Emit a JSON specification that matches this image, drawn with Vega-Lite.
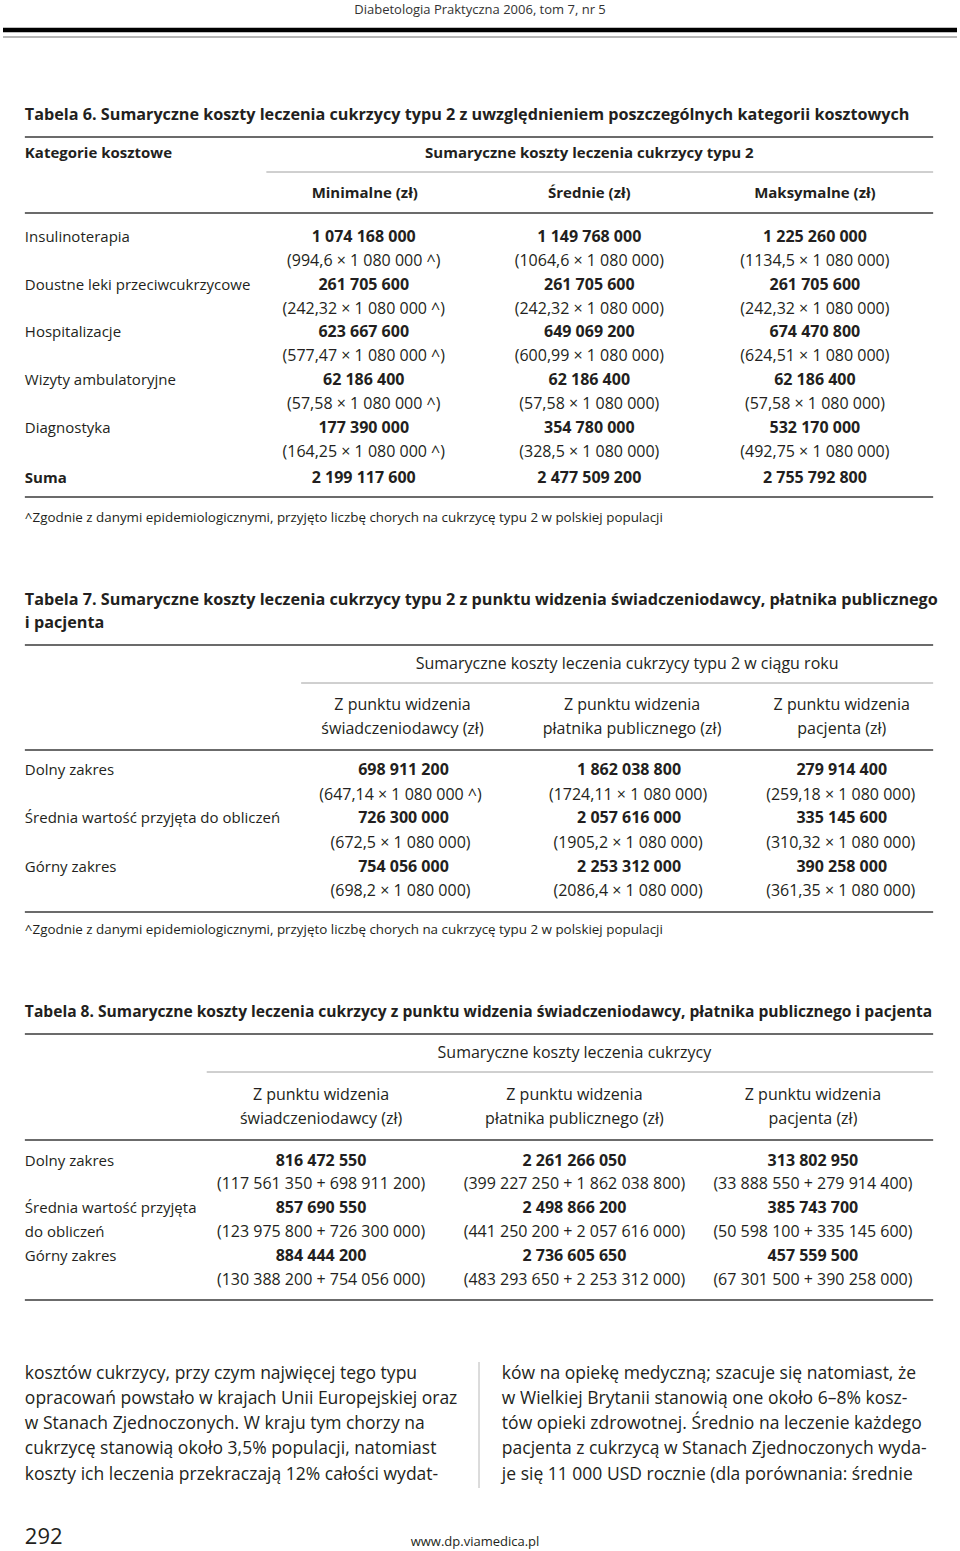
{
  "$schema": "https://vega.github.io/schema/vega-lite/v6.json",
  "width": 960,
  "height": 1551,
  "autosize": {"type": "fit", "contains": "padding"},
  "padding": 0,
  "background": "white",
  "config": {"view": {"stroke": null}, "text": {"font": "Open Sans", "color": "#231f20"}},
  "datasets": {
    "rules": [
      {"kind": "bar", "x": 0, "x2": 960, "y": 30, "y2": 30},
      {"kind": "page", "x": 0, "x2": 960, "y": 37, "y2": 37},
      {"kind": "main", "x": 22, "x2": 936, "y": 137, "y2": 137},
      {"kind": "sub", "x": 265, "x2": 936, "y": 172, "y2": 172},
      {"kind": "main", "x": 22, "x2": 936, "y": 213, "y2": 213},
      {"kind": "main", "x": 22, "x2": 936, "y": 497, "y2": 497},
      {"kind": "main", "x": 22, "x2": 936, "y": 645, "y2": 645},
      {"kind": "sub", "x": 300, "x2": 936, "y": 683, "y2": 683},
      {"kind": "main", "x": 22, "x2": 936, "y": 750, "y2": 750},
      {"kind": "main", "x": 22, "x2": 936, "y": 912, "y2": 912},
      {"kind": "main", "x": 22, "x2": 936, "y": 1034, "y2": 1034},
      {"kind": "sub", "x": 205, "x2": 936, "y": 1072, "y2": 1072},
      {"kind": "main", "x": 22, "x2": 936, "y": 1140, "y2": 1140},
      {"kind": "main", "x": 22, "x2": 936, "y": 1300, "y2": 1300},
      {"kind": "divider", "x": 479, "x2": 479, "y": 1362, "y2": 1488}
    ],
    "texts": [
      {"role": "running", "x": 480, "y": 10, "text": "Diabetologia Praktyczna 2006, tom 7, nr 5"},

      {"role": "title", "x": 22, "y": 115, "text": "Tabela 6. Sumaryczne koszty leczenia cukrzycy typu 2 z uwzględnieniem poszczególnych kategorii kosztowych"},
      {"role": "headL", "x": 22, "y": 153, "text": "Kategorie kosztowe"},
      {"role": "head", "x": 590, "y": 153, "text": "Sumaryczne koszty leczenia cukrzycy typu 2"},
      {"role": "head", "x": 364, "y": 193, "text": "Minimalne (zł)"},
      {"role": "head", "x": 590, "y": 193, "text": "Średnie (zł)"},
      {"role": "head", "x": 817, "y": 193, "text": "Maksymalne (zł)"},

      {"role": "label", "x": 22, "y": 237, "text": "Insulinoterapia"},
      {"role": "value", "x": 363, "y": 237, "text": "1 074 168 000"},
      {"role": "value", "x": 590, "y": 237, "text": "1 149 768 000"},
      {"role": "value", "x": 817, "y": 237, "text": "1 225 260 000"},
      {"role": "detail", "x": 363, "y": 261, "text": "(994,6 × 1 080 000 ^)"},
      {"role": "detail", "x": 590, "y": 261, "text": "(1064,6 × 1 080 000)"},
      {"role": "detail", "x": 817, "y": 261, "text": "(1134,5 × 1 080 000)"},

      {"role": "label", "x": 22, "y": 285, "text": "Doustne leki przeciwcukrzycowe"},
      {"role": "value", "x": 363, "y": 285, "text": "261 705 600"},
      {"role": "value", "x": 590, "y": 285, "text": "261 705 600"},
      {"role": "value", "x": 817, "y": 285, "text": "261 705 600"},
      {"role": "detail", "x": 363, "y": 309, "text": "(242,32 × 1 080 000 ^)"},
      {"role": "detail", "x": 590, "y": 309, "text": "(242,32 × 1 080 000)"},
      {"role": "detail", "x": 817, "y": 309, "text": "(242,32 × 1 080 000)"},

      {"role": "label", "x": 22, "y": 332, "text": "Hospitalizacje"},
      {"role": "value", "x": 363, "y": 332, "text": "623 667 600"},
      {"role": "value", "x": 590, "y": 332, "text": "649 069 200"},
      {"role": "value", "x": 817, "y": 332, "text": "674 470 800"},
      {"role": "detail", "x": 363, "y": 356, "text": "(577,47 × 1 080 000 ^)"},
      {"role": "detail", "x": 590, "y": 356, "text": "(600,99 × 1 080 000)"},
      {"role": "detail", "x": 817, "y": 356, "text": "(624,51 × 1 080 000)"},

      {"role": "label", "x": 22, "y": 380, "text": "Wizyty ambulatoryjne"},
      {"role": "value", "x": 363, "y": 380, "text": "62 186 400"},
      {"role": "value", "x": 590, "y": 380, "text": "62 186 400"},
      {"role": "value", "x": 817, "y": 380, "text": "62 186 400"},
      {"role": "detail", "x": 363, "y": 404, "text": "(57,58 × 1 080 000 ^)"},
      {"role": "detail", "x": 590, "y": 404, "text": "(57,58 × 1 080 000)"},
      {"role": "detail", "x": 817, "y": 404, "text": "(57,58 × 1 080 000)"},

      {"role": "label", "x": 22, "y": 428, "text": "Diagnostyka"},
      {"role": "value", "x": 363, "y": 428, "text": "177 390 000"},
      {"role": "value", "x": 590, "y": 428, "text": "354 780 000"},
      {"role": "value", "x": 817, "y": 428, "text": "532 170 000"},
      {"role": "detail", "x": 363, "y": 452, "text": "(164,25 × 1 080 000 ^)"},
      {"role": "detail", "x": 590, "y": 452, "text": "(328,5 × 1 080 000)"},
      {"role": "detail", "x": 817, "y": 452, "text": "(492,75 × 1 080 000)"},

      {"role": "headL", "x": 22, "y": 478, "text": "Suma"},
      {"role": "value", "x": 363, "y": 478, "text": "2 199 117 600"},
      {"role": "value", "x": 590, "y": 478, "text": "2 477 509 200"},
      {"role": "value", "x": 817, "y": 478, "text": "2 755 792 800"},
      {"role": "note", "x": 22, "y": 518, "text": "^Zgodnie z danymi epidemiologicznymi, przyjęto liczbę chorych na cukrzycę typu 2 w polskiej populacji"},

      {"role": "title", "x": 22, "y": 600, "text": "Tabela 7. Sumaryczne koszty leczenia cukrzycy typu 2 z punktu widzenia świadczeniodawcy, płatnika publicznego"},
      {"role": "title", "x": 22, "y": 623, "text": "i pacjenta"},
      {"role": "headN", "x": 628, "y": 664, "text": "Sumaryczne koszty leczenia cukrzycy typu 2 w ciągu roku"},
      {"role": "headN", "x": 402, "y": 705, "text": "Z punktu widzenia"},
      {"role": "headN", "x": 402, "y": 729, "text": "świadczeniodawcy (zł)"},
      {"role": "headN", "x": 633, "y": 705, "text": "Z punktu widzenia"},
      {"role": "headN", "x": 633, "y": 729, "text": "płatnika publicznego (zł)"},
      {"role": "headN", "x": 844, "y": 705, "text": "Z punktu widzenia"},
      {"role": "headN", "x": 844, "y": 729, "text": "pacjenta (zł)"},

      {"role": "label", "x": 22, "y": 770, "text": "Dolny zakres"},
      {"role": "value", "x": 403, "y": 770, "text": "698 911 200"},
      {"role": "value", "x": 630, "y": 770, "text": "1 862 038 800"},
      {"role": "value", "x": 844, "y": 770, "text": "279 914 400"},
      {"role": "detail", "x": 400, "y": 795, "text": "(647,14 × 1 080 000 ^)"},
      {"role": "detail", "x": 629, "y": 795, "text": "(1724,11 × 1 080 000)"},
      {"role": "detail", "x": 843, "y": 795, "text": "(259,18 × 1 080 000)"},
      {"role": "label", "x": 22, "y": 818, "text": "Średnia wartość przyjęta do obliczeń"},
      {"role": "value", "x": 403, "y": 818, "text": "726 300 000"},
      {"role": "value", "x": 630, "y": 818, "text": "2 057 616 000"},
      {"role": "value", "x": 844, "y": 818, "text": "335 145 600"},
      {"role": "detail", "x": 400, "y": 843, "text": "(672,5 × 1 080 000)"},
      {"role": "detail", "x": 629, "y": 843, "text": "(1905,2 × 1 080 000)"},
      {"role": "detail", "x": 843, "y": 843, "text": "(310,32 × 1 080 000)"},
      {"role": "label", "x": 22, "y": 867, "text": "Górny zakres"},
      {"role": "value", "x": 403, "y": 867, "text": "754 056 000"},
      {"role": "value", "x": 630, "y": 867, "text": "2 253 312 000"},
      {"role": "value", "x": 844, "y": 867, "text": "390 258 000"},
      {"role": "detail", "x": 400, "y": 891, "text": "(698,2 × 1 080 000)"},
      {"role": "detail", "x": 629, "y": 891, "text": "(2086,4 × 1 080 000)"},
      {"role": "detail", "x": 843, "y": 891, "text": "(361,35 × 1 080 000)"},
      {"role": "note", "x": 22, "y": 930, "text": "^Zgodnie z danymi epidemiologicznymi, przyjęto liczbę chorych na cukrzycę typu 2 w polskiej populacji"},

      {"role": "titleS", "x": 22, "y": 1012, "text": "Tabela 8. Sumaryczne koszty leczenia cukrzycy z punktu widzenia świadczeniodawcy, płatnika publicznego i pacjenta"},
      {"role": "headN", "x": 575, "y": 1053, "text": "Sumaryczne koszty leczenia cukrzycy"},
      {"role": "headN", "x": 320, "y": 1095, "text": "Z punktu widzenia"},
      {"role": "headN", "x": 320, "y": 1119, "text": "świadczeniodawcy (zł)"},
      {"role": "headN", "x": 575, "y": 1095, "text": "Z punktu widzenia"},
      {"role": "headN", "x": 575, "y": 1119, "text": "płatnika publicznego (zł)"},
      {"role": "headN", "x": 815, "y": 1095, "text": "Z punktu widzenia"},
      {"role": "headN", "x": 815, "y": 1119, "text": "pacjenta (zł)"},

      {"role": "label", "x": 22, "y": 1161, "text": "Dolny zakres"},
      {"role": "value", "x": 320, "y": 1161, "text": "816 472 550"},
      {"role": "value", "x": 575, "y": 1161, "text": "2 261 266 050"},
      {"role": "value", "x": 815, "y": 1161, "text": "313 802 950"},
      {"role": "detail", "x": 320, "y": 1184, "text": "(117 561 350 + 698 911 200)"},
      {"role": "detail", "x": 575, "y": 1184, "text": "(399 227 250 + 1 862 038 800)"},
      {"role": "detail", "x": 815, "y": 1184, "text": "(33 888 550 + 279 914 400)"},
      {"role": "label", "x": 22, "y": 1208, "text": "Średnia wartość przyjęta"},
      {"role": "label", "x": 22, "y": 1232, "text": "do obliczeń"},
      {"role": "value", "x": 320, "y": 1208, "text": "857 690 550"},
      {"role": "value", "x": 575, "y": 1208, "text": "2 498 866 200"},
      {"role": "value", "x": 815, "y": 1208, "text": "385 743 700"},
      {"role": "detail", "x": 320, "y": 1232, "text": "(123 975 800 + 726 300 000)"},
      {"role": "detail", "x": 575, "y": 1232, "text": "(441 250 200 + 2 057 616 000)"},
      {"role": "detail", "x": 815, "y": 1232, "text": "(50 598 100 + 335 145 600)"},
      {"role": "label", "x": 22, "y": 1256, "text": "Górny zakres"},
      {"role": "value", "x": 320, "y": 1256, "text": "884 444 200"},
      {"role": "value", "x": 575, "y": 1256, "text": "2 736 605 650"},
      {"role": "value", "x": 815, "y": 1256, "text": "457 559 500"},
      {"role": "detail", "x": 320, "y": 1280, "text": "(130 388 200 + 754 056 000)"},
      {"role": "detail", "x": 575, "y": 1280, "text": "(483 293 650 + 2 253 312 000)"},
      {"role": "detail", "x": 815, "y": 1280, "text": "(67 301 500 + 390 258 000)"},

      {"role": "body", "x": 22, "y": 1374, "text": "kosztów cukrzycy, przy czym najwięcej tego typu"},
      {"role": "body", "x": 22, "y": 1399, "text": "opracowań powstało w krajach Unii Europejskiej oraz"},
      {"role": "body", "x": 22, "y": 1424, "text": "w Stanach Zjednoczonych. W kraju tym chorzy na"},
      {"role": "body", "x": 22, "y": 1449, "text": "cukrzycę stanowią około 3,5% populacji, natomiast"},
      {"role": "body", "x": 22, "y": 1475, "text": "koszty ich leczenia przekraczają 12% całości wydat-"},
      {"role": "body", "x": 502, "y": 1374, "text": "ków na opiekę medyczną; szacuje się natomiast, że"},
      {"role": "body", "x": 502, "y": 1399, "text": "w Wielkiej Brytanii stanowią one około 6–8% kosz-"},
      {"role": "body", "x": 502, "y": 1424, "text": "tów opieki zdrowotnej. Średnio na leczenie każdego"},
      {"role": "body", "x": 502, "y": 1449, "text": "pacjenta z cukrzycą w Stanach Zjednoczonych wyda-"},
      {"role": "body", "x": 502, "y": 1475, "text": "je się 11 000 USD rocznie (dla porównania: średnie"},

      {"role": "pagenum", "x": 22, "y": 1537, "text": "292"},
      {"role": "url", "x": 475, "y": 1542, "text": "www.dp.viamedica.pl"}
    ]
  },
  "encoding": {
    "x": {"field": "x", "type": "quantitative", "scale": {"domain": [0, 960], "nice": false, "zero": false}, "axis": null},
    "y": {"field": "y", "type": "quantitative", "scale": {"domain": [0, 1551], "nice": false, "zero": false, "reverse": true}, "axis": null}
  },
  "layer": [
    {"data": {"name": "rules"}, "transform": [{"filter": "datum.kind === 'bar'"}], "mark": {"type": "rule", "strokeWidth": 4.5, "color": "#000000"}, "encoding": {"x2": {"field": "x2"}, "y2": {"field": "y2"}}},
    {"data": {"name": "rules"}, "transform": [{"filter": "datum.kind === 'page'"}], "mark": {"type": "rule", "strokeWidth": 1.2, "color": "#6f6f6f"}, "encoding": {"x2": {"field": "x2"}, "y2": {"field": "y2"}}},
    {"data": {"name": "rules"}, "transform": [{"filter": "datum.kind === 'main'"}], "mark": {"type": "rule", "strokeWidth": 1.5, "color": "#3a3a3a"}, "encoding": {"x2": {"field": "x2"}, "y2": {"field": "y2"}}},
    {"data": {"name": "rules"}, "transform": [{"filter": "datum.kind === 'sub'"}], "mark": {"type": "rule", "strokeWidth": 1, "color": "#a0a0a0"}, "encoding": {"x2": {"field": "x2"}, "y2": {"field": "y2"}}},
    {"data": {"name": "rules"}, "transform": [{"filter": "datum.kind === 'divider'"}], "mark": {"type": "rule", "strokeWidth": 1, "color": "#b8b8b8"}, "encoding": {"x2": {"field": "x2"}, "y2": {"field": "y2"}}},

    {"data": {"name": "texts"}, "transform": [{"filter": "datum.role === 'running'"}], "mark": {"type": "text", "align": "center", "baseline": "middle", "fontSize": 13, "color": "#333333"}, "encoding": {"text": {"field": "text"}}},
    {"data": {"name": "texts"}, "transform": [{"filter": "datum.role === 'title'"}], "mark": {"type": "text", "align": "left", "baseline": "middle", "fontSize": 16.2, "fontWeight": "bold"}, "encoding": {"text": {"field": "text"}}},
    {"data": {"name": "texts"}, "transform": [{"filter": "datum.role === 'titleS'"}], "mark": {"type": "text", "align": "left", "baseline": "middle", "fontSize": 15.6, "fontWeight": "bold"}, "encoding": {"text": {"field": "text"}}},
    {"data": {"name": "texts"}, "transform": [{"filter": "datum.role === 'headL'"}], "mark": {"type": "text", "align": "left", "baseline": "middle", "fontSize": 15, "fontWeight": "bold"}, "encoding": {"text": {"field": "text"}}},
    {"data": {"name": "texts"}, "transform": [{"filter": "datum.role === 'head'"}], "mark": {"type": "text", "align": "center", "baseline": "middle", "fontSize": 15, "fontWeight": "bold"}, "encoding": {"text": {"field": "text"}}},
    {"data": {"name": "texts"}, "transform": [{"filter": "datum.role === 'headN'"}], "mark": {"type": "text", "align": "center", "baseline": "middle", "fontSize": 16}, "encoding": {"text": {"field": "text"}}},
    {"data": {"name": "texts"}, "transform": [{"filter": "datum.role === 'label'"}], "mark": {"type": "text", "align": "left", "baseline": "middle", "fontSize": 15}, "encoding": {"text": {"field": "text"}}},
    {"data": {"name": "texts"}, "transform": [{"filter": "datum.role === 'value'"}], "mark": {"type": "text", "align": "center", "baseline": "middle", "fontSize": 16, "fontWeight": "bold"}, "encoding": {"text": {"field": "text"}}},
    {"data": {"name": "texts"}, "transform": [{"filter": "datum.role === 'detail'"}], "mark": {"type": "text", "align": "center", "baseline": "middle", "fontSize": 16}, "encoding": {"text": {"field": "text"}}},
    {"data": {"name": "texts"}, "transform": [{"filter": "datum.role === 'note'"}], "mark": {"type": "text", "align": "left", "baseline": "middle", "fontSize": 13.4}, "encoding": {"text": {"field": "text"}}},
    {"data": {"name": "texts"}, "transform": [{"filter": "datum.role === 'body'"}], "mark": {"type": "text", "align": "left", "baseline": "middle", "fontSize": 17.5}, "encoding": {"text": {"field": "text"}}},
    {"data": {"name": "texts"}, "transform": [{"filter": "datum.role === 'pagenum'"}], "mark": {"type": "text", "align": "left", "baseline": "middle", "fontSize": 22}, "encoding": {"text": {"field": "text"}}},
    {"data": {"name": "texts"}, "transform": [{"filter": "datum.role === 'url'"}], "mark": {"type": "text", "align": "center", "baseline": "middle", "fontSize": 13}, "encoding": {"text": {"field": "text"}}}
  ]
}
